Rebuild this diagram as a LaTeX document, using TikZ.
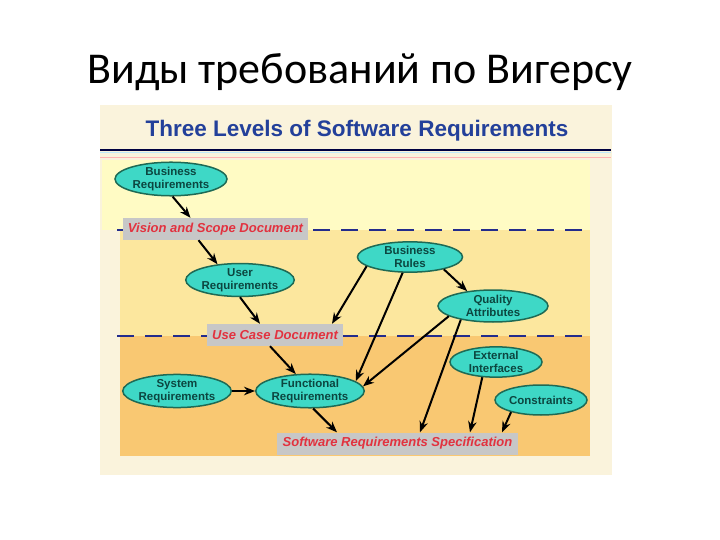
\documentclass[tikz,border=0pt]{standalone}
\usepackage{fontspec}
\setmainfont{Carlito}
\newfontfamily\arialfont{Liberation Sans}
\usetikzlibrary{arrows.meta,positioning,shapes.geometric}
\definecolor{slidebg}{HTML}{FAF3DC}
\definecolor{bandtop}{HTML}{FFFBC4}
\definecolor{bandmid}{HTML}{FCE79E}
\definecolor{bandlow}{HTML}{F9C872}
\definecolor{reqfill}{HTML}{3ED8C6}
\definecolor{reqline}{HTML}{1E6A55}
\definecolor{reqtext}{HTML}{0C4640}
\definecolor{docred}{HTML}{E2323F}
\definecolor{dashblue}{HTML}{232C8C}
\definecolor{headblue}{HTML}{23409A}

\begin{document}
\begin{tikzpicture}[x=1pt, y=-1pt,
  req/.style={draw=reqline, line width=1.5pt, fill=reqfill, ellipse, minimum width=104pt, minimum height=30pt, inner sep=0pt, align=center, text=reqtext, font=\arialfont\bfseries\fontsize{11.5}{13}\selectfont},
  doc/.style={fill=black!22, minimum height=22pt, inner sep=0pt, text=docred, font=\arialfont\bfseries\itshape\fontsize{13}{15}\selectfont},
  arr/.style={-{Stealth[length=11pt,width=8.5pt]}, line width=2pt},
  level/.style={dashblue, line width=2.8pt, dash pattern=on 17pt off 11pt}]
    \useasboundingbox (0,0) rectangle (720,540);
    \fill[white] (0,0) rectangle (720,540);
    \node[anchor=base, font=\fontsize{44}{50}\selectfont] (title) at (360,84) {Виды требований по Вигерсу};

    \fill[slidebg] (100,105) rectangle (612,475);
    \fill[bandtop] (102,160) rectangle (590,230);
    \fill[bandmid] (120,230) rectangle (590,336);
    \fill[bandlow] (120,336) rectangle (590,456);
    \node[anchor=base, text=headblue, font=\arialfont\bfseries\fontsize{22.5}{26}\selectfont] (heading) at (357,137) {Three Levels of Software Requirements};
    \draw[line width=2pt, black!75!blue] (100,150) -- (611,150);
    \draw[line width=1pt, cyan!25] (100,153) -- (611,153);
    \draw[line width=0.8pt, red!30] (100,157) -- (611,157);

    \draw[level] (117,230) -- (592,230);
    \draw[level] (117,336) -- (592,336);

    \node[doc, minimum width=185pt] (vision) at (215.5,229) {Vision and Scope Document};
    \node[doc, minimum width=136pt] (usecase) at (275,335) {Use Case Document};
    \node[doc, minimum width=241pt] (srs) at (397.5,443.5) {Software Requirements Specification};

    \node[req, minimum width=112pt, minimum height=28pt] (bizreq) at (171,179) {Business\\Requirements};
    \node[req] (userreq) at (240,280) {User\\Requirements};
    \node[req, minimum width=105pt] (bizrules) at (410,257) {Business\\Rules};
    \node[req, minimum width=110pt, minimum height=32pt] (quality) at (493,306) {Quality\\Attributes};
    \node[req, minimum width=101pt, minimum height=32pt] (sysreq) at (177,391) {System\\Requirements};
    \node[req, minimum height=32pt] (funcreq) at (310,391) {Functional\\Requirements};
    \node[req, minimum width=92pt] (extint) at (496,362) {External\\Interfaces};
    \node[req, minimum width=92pt] (constr) at (541,400) {Constraints};

    \draw[arr] (bizreq.-85) -- ([xshift=-25pt]vision.north);
    \draw[arr] ([xshift=-17pt]vision.south) -- (userreq.145);
    \draw[arr] (userreq.south) -- ([xshift=-15pt]usecase.north);
    \draw[arr] (bizrules.-168) -- ([xshift=57pt]usecase.north);
    \draw[arr] (bizrules.-115) -- (funcreq.12);
    \draw[arr] (bizrules.-20) -- (quality.150);
    \draw[arr] (quality.-167) -- (funcreq.5);
    \draw[arr] (quality.-157) -- ([xshift=22.5pt]srs.north);
    \draw[arr] ([xshift=-5pt]usecase.south) -- (funcreq.130);
    \draw[arr] (sysreq.east) -- (funcreq.west);
    \draw[arr] (funcreq.-80) -- ([xshift=-60.5pt]srs.north);
    \draw[arr] (extint.-132) -- ([xshift=72.5pt]srs.north);
    \draw[arr] (constr.-158) -- ([xshift=104.5pt]srs.north);
\end{tikzpicture}
\end{document}
